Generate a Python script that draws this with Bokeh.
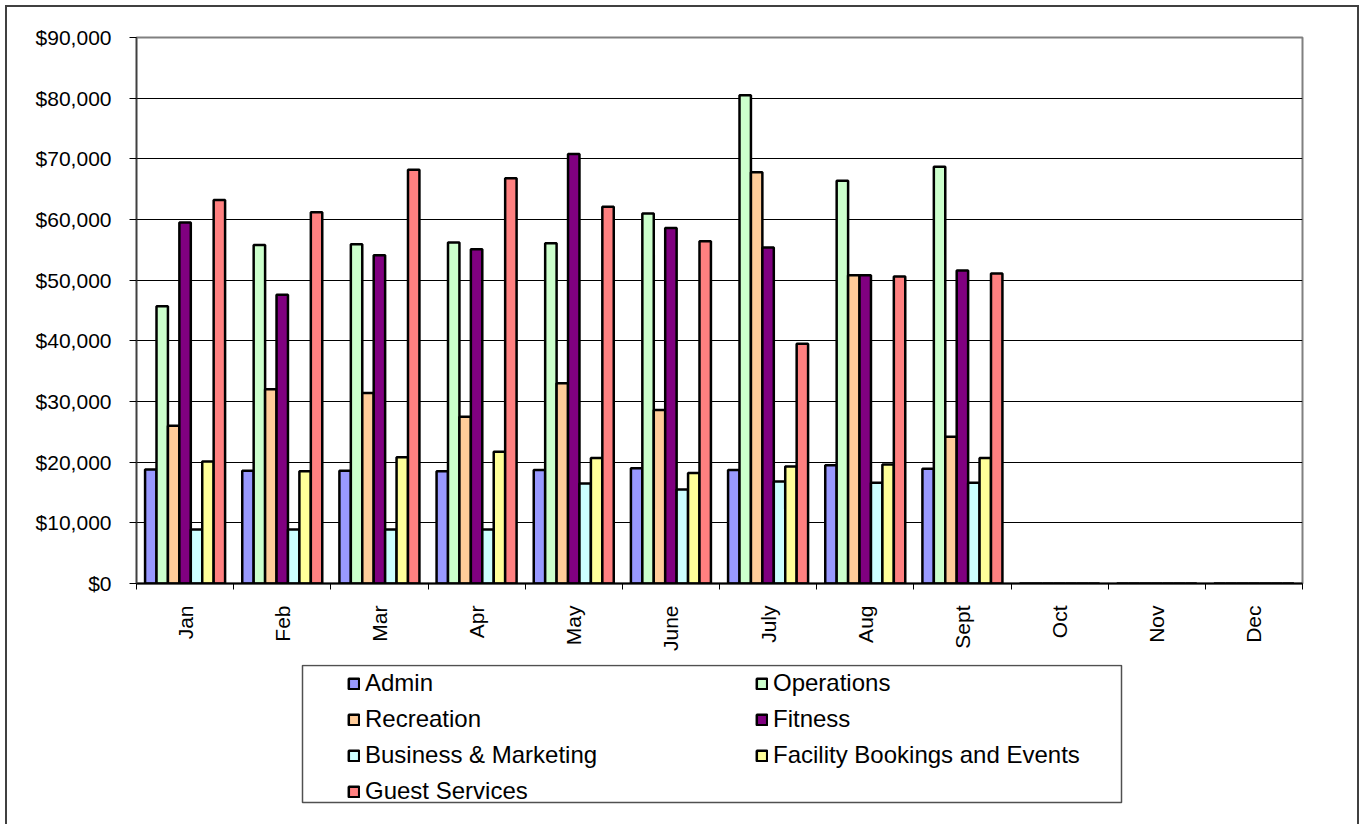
import numpy as np
from bokeh.plotting import figure
from bokeh.layouts import column
from bokeh.models import (ColumnDataSource, Range1d, FixedTicker, NumeralTickFormatter,
                          CustomJSTickFormatter, Legend, LegendItem, BoxAnnotation)
from bokeh.embed import file_html
from bokeh.resources import INLINE

months = ["Jan", "Feb", "Mar", "Apr", "May", "June", "July", "Aug", "Sept", "Oct", "Nov", "Dec"]
admin = [18800, 18600, 18600, 18500, 18700, 19000, 18700, 19500, 18900, 0, 0, 0]
operations = [45700, 55800, 55900, 56200, 56100, 61000, 80500, 66400, 68700, 0, 0, 0]
recreation = [26000, 32000, 31400, 27500, 33000, 28600, 67800, 50800, 24200, 0, 0, 0]
fitness = [59500, 47600, 54100, 55100, 70800, 58600, 55400, 50800, 51600, 0, 0, 0]
business = [8900, 8900, 8900, 8900, 16500, 15500, 16800, 16600, 16600, 0, 0, 0]
facility = [20100, 18500, 20800, 21700, 20700, 18200, 19300, 19600, 20700, 0, 0, 0]
guest = [63200, 61200, 68200, 66800, 62100, 56400, 39500, 50600, 51100, 0, 0, 0]

series_names = ["Admin", "Operations", "Recreation", "Fitness",
                "Business & Marketing", "Facility Bookings and Events", "Guest Services"]
series_values = [admin, operations, recreation, fitness, business, facility, guest]
series_colors = ["#9999FF", "#CCFFCC", "#FFCC99", "#800080", "#CCFFFF", "#FFFF99", "#FF8080"]

FONT = "Liberation Sans"
BORDER_L, BORDER_R = 129, 55

# ---------------- main chart ----------------
p = figure(width=1350, height=657, output_backend="svg", toolbar_location=None,
           x_range=Range1d(0, 12), y_range=Range1d(0, 90000),
           min_border_left=BORDER_L, min_border_right=BORDER_R, min_border_top=30, min_border_bottom=81)
p.background_fill_color = "white"
p.border_fill_color = "white"
p.outline_line_color = "#808080"
p.outline_line_width = 2

n = len(series_names)
bw = 1.0 / (n + 1.5)
centers = np.arange(len(months)) + 0.5
sources = []
for k, (name, vals, col) in enumerate(zip(series_names, series_values, series_colors)):
    src = ColumnDataSource(dict(x=centers + (k - (n - 1) / 2) * bw, top=vals))
    sources.append(src)
    p.vbar(x="x", top="top", width=bw, bottom=0, source=src,
           fill_color=col, line_color="black", line_width=2.5)

p.xgrid.visible = False
p.xaxis.ticker = FixedTicker(ticks=list(centers), minor_ticks=list(range(len(months) + 1)))
p.xaxis.formatter = CustomJSTickFormatter(args=dict(months=months),
                                          code="return months[Math.floor(tick)];")
p.xaxis.major_tick_out = 0
p.xaxis.major_tick_in = 0
p.xaxis.minor_tick_out = 6
p.xaxis.minor_tick_in = 0
p.xaxis.minor_tick_line_color = "black"
p.xaxis.minor_tick_line_width = 1
p.xaxis.axis_line_color = "black"
p.xaxis.axis_line_width = 2
p.xaxis.major_label_orientation = np.pi / 2
p.xaxis.major_label_standoff = 16
p.xaxis.major_label_text_font = FONT
p.xaxis.major_label_text_font_size = "21px"
p.xaxis.major_label_text_color = "black"

p.yaxis.ticker = FixedTicker(ticks=list(range(0, 90001, 10000)), minor_ticks=[])
p.yaxis.formatter = NumeralTickFormatter(format="$0,0")
p.yaxis.major_tick_out = 7
p.yaxis.major_tick_in = 0
p.yaxis.major_tick_line_color = "black"
p.yaxis.minor_tick_line_color = None
p.yaxis.axis_line_color = "#404040"
p.yaxis.axis_line_width = 1.5
p.yaxis.major_label_standoff = 18
p.yaxis.major_label_text_font = FONT
p.yaxis.major_label_text_font_size = "21px"
p.yaxis.major_label_text_color = "black"
p.ygrid.grid_line_color = "black"
p.ygrid.grid_line_width = 1

# ---------------- legend panel (pixel-unit frame) ----------------
LG_W = 1350 - BORDER_L - BORDER_R
LG_H = 142
lg = figure(width=1350, height=160, output_backend="svg", toolbar_location=None,
            x_range=Range1d(0, LG_W), y_range=Range1d(0, LG_H), x_axis_type=None, y_axis_type=None,
            min_border_left=BORDER_L, min_border_right=BORDER_R, min_border_top=0,
            min_border_bottom=160 - LG_H)
lg.grid.visible = False
lg.background_fill_color = "white"
lg.border_fill_color = "white"
lg.outline_line_color = None
# hidden proxy bar renderers providing the legend swatches
lg.extra_x_ranges = {"m": Range1d(0, 12)}
lg.extra_y_ranges = {"v": Range1d(1e7, 2e7)}
legend_renderers = []
for src, c in zip(sources, series_colors):
    r = lg.vbar(x="x", top="top", width=bw, bottom=0, source=src,
                x_range_name="m", y_range_name="v",
                fill_color=c, line_color="black", line_width=2.5)
    r.visible = False
    legend_renderers.append(r)

lg.add_layout(BoxAnnotation(left=166, right=985, bottom=4, top=141,
                            fill_alpha=0, line_color="#505050", line_alpha=1, line_width=1.5))

col_a = [0, 2, 4, 6]
col_b = [1, 3, 5]
for idxs, loc in ((col_a, (211, 1)), (col_b, (619, 37))):
    leg = Legend(items=[LegendItem(label=series_names[i], renderers=[legend_renderers[i]]) for i in idxs],
                 location=loc, orientation="vertical", padding=0, spacing=8, margin=0,
                 label_height=28, glyph_height=13, glyph_width=13, label_standoff=5,
                 label_text_font=FONT, label_text_font_size="24px", label_text_color="black",
                 border_line_alpha=0, background_fill_alpha=0)
    lg.add_layout(leg, "center")

border = "2px solid #404040"
layout = column(p, lg, spacing=0, margin=(5, 0, 0, 5),
                styles={"border-top": border, "border-left": border, "border-right": border})

open("out.html", "w").write(file_html(layout, INLINE))
